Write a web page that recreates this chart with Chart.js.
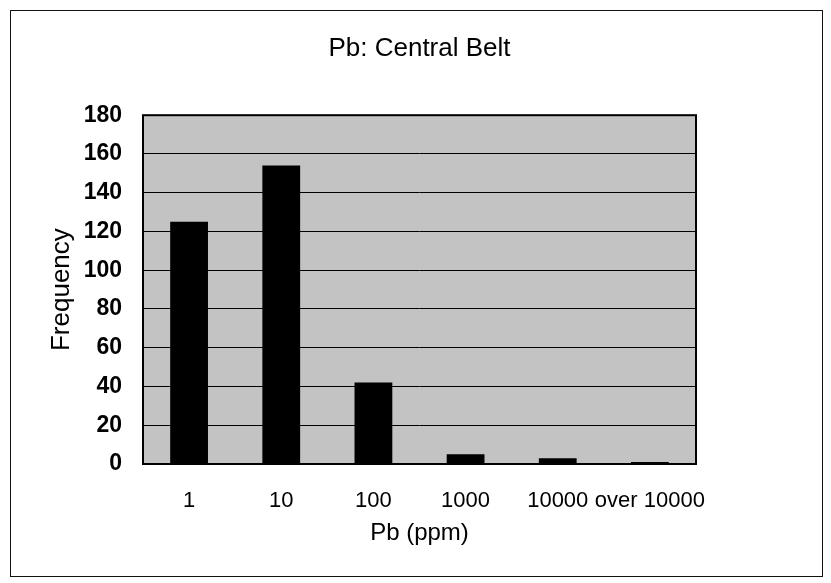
<!DOCTYPE html>
<html>
<head>
<meta charset="utf-8">
<script src="https://cdn.jsdelivr.net/npm/chart.js@4"></script>
<style>
  html, body { margin: 0; padding: 0; background: #fff; }
  #wrap { position: relative; width: 831px; height: 583px; }
  #frame { position: absolute; left: 10px; top: 10px; width: 811px; height: 565px; border: 1.5px solid #111; pointer-events: none; }
  canvas { position: absolute; left: 0; top: 0; }
</style>
</head>
<body>
<div id="wrap">
  <canvas id="c" width="831" height="583"></canvas>
  <div id="frame"></div>
</div>
<script>
const categories = ["1", "10", "100", "1000", "10000", "over 10000"];
const frequency = [125, 154, 42, 5, 3, 1];
const yTicksMin = 0, yTicksMax = 180, yTicksStep = 20;
const chartTitle = "Pb: Central Belt";
const xTitle = "Pb (ppm)";
const yTitle = "Frequency";

const plotFrame = {
  id: 'plotFrame',
  beforeDraw(chart) {
    const {ctx, chartArea: a} = chart;
    ctx.save();
    ctx.fillStyle = '#c3c3c3';
    ctx.fillRect(a.left, a.top, a.right - a.left, a.bottom - a.top);
    ctx.restore();
  },
  afterDatasetsDraw(chart) {
    const {ctx, chartArea: a} = chart;
    ctx.save();
    ctx.strokeStyle = '#000';
    ctx.lineWidth = 2;
    ctx.strokeRect(a.left, a.top, a.right - a.left, a.bottom - a.top);
    ctx.restore();
  }
};

const regular = "'Liberation Sans', Arial, sans-serif";

new Chart(document.getElementById('c'), {
  type: 'bar',
  data: {
    labels: categories,
    datasets: [{
      data: frequency,
      backgroundColor: '#000',
      borderWidth: 0,
      categoryPercentage: 1,
      barPercentage: 0.41
    }]
  },
  plugins: [plotFrame],
  options: {
    responsive: false,
    animation: false,
    devicePixelRatio: 1,
    layout: { padding: { left: 40, right: 135, top: 10, bottom: 20 } },
    plugins: {
      legend: { display: false },
      tooltip: { enabled: false },
      title: {
        display: true,
        text: chartTitle,
        fullSize: false,
        color: '#000',
        font: { family: regular, size: 26, weight: 'normal' },
        padding: { top: 23, bottom: 51 }
      }
    },
    scales: {
      x: {
        grid: { display: false, drawTicks: false },
        border: { display: false },
        ticks: { color: '#000', padding: 24, maxRotation: 0, autoSkip: false,
                 font: { family: regular, size: 22 } },
        title: { display: true, text: xTitle, color: '#000',
                 font: { family: regular, size: 24 }, padding: { top: 0, bottom: 15 } },
        afterFit(scale) { scale.height = 99; }
      },
      y: {
        min: yTicksMin, max: yTicksMax,
        grid: { color: '#000', lineWidth: 1, drawTicks: false },
        border: { display: false },
        ticks: { stepSize: yTicksStep, color: '#000', padding: 21,
                 font: { family: regular, size: 23, weight: 'bold' } },
        title: { display: true, text: yTitle, color: '#000',
                 font: { family: regular, size: 26 }, padding: { top: 6, bottom: 0 } },
        afterFit(scale) { scale.width = 103; }
      }
    }
  }
});
</script>
</body>
</html>
